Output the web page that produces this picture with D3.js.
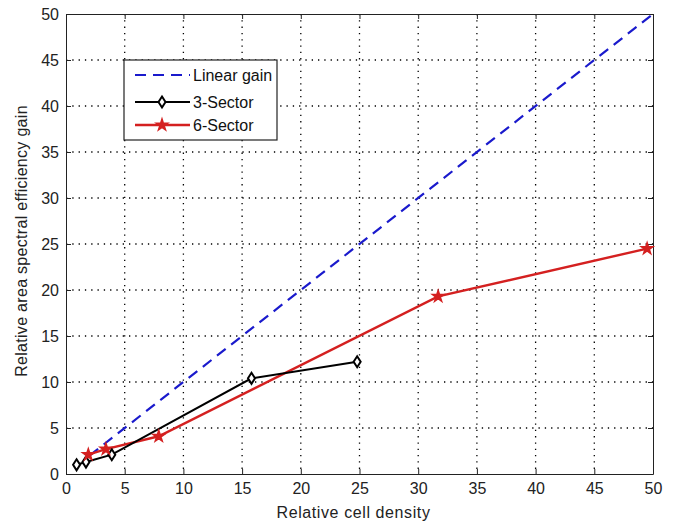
<!DOCTYPE html>
<html>
<head>
<meta charset="utf-8">
<script src="https://cdn.jsdelivr.net/npm/d3@7"></script>
<style>
  body { margin: 0; background: #fff; }
  text { font-family: "Liberation Sans", Arial, sans-serif; }
</style>
</head>
<body>
<script>
// chart data
let ticks = [0, 5, 10, 15, 20, 25, 30, 35, 40, 45, 50];
let linearGain = [[2, 2], [50, 50]];
let sector3 = [[0.9, 1.0], [1.7, 1.3], [3.9, 2.1], [15.8, 10.4], [24.8, 12.2]];
let sector6 = [[1.9, 2.1], [3.4, 2.7], [7.9, 4.1], [31.7, 19.3], [49.5, 24.5]];
let legendNames = ["Linear gain", "3-Sector", "6-Sector"];

let margin = {top: 14, right: 27, bottom: 53, left: 66},
width = 680 - margin.left - margin.right,
height = 527 - margin.top - margin.bottom;

let x = d3.scaleLinear().domain([0, 50]).range([0, width]);
let y = d3.scaleLinear().domain([0, 50]).range([height, 0]);

let svg = d3.select("body").append("svg")
  .attr("width", 680)
  .attr("height", 527)
.append("g")
  .attr("transform", "translate(" + margin.left + "," + margin.top + ")");

// dotted grid
svg.append("g").selectAll("line").data(ticks.slice(1, -1)).enter().append("line")
  .attr("x1", d => x(d)).attr("x2", d => x(d))
  .attr("y1", 0).attr("y2", height)
  .attr("stroke", "#000").attr("stroke-width", 1.3)
  .attr("stroke-dasharray", "1.3,5");
svg.append("g").selectAll("line").data(ticks.slice(1, -1)).enter().append("line")
  .attr("y1", d => y(d)).attr("y2", d => y(d))
  .attr("x1", 0).attr("x2", width)
  .attr("stroke", "#000").attr("stroke-width", 1.3)
  .attr("stroke-dasharray", "1.3,5");

// axes
svg.append("g")
  .attr("transform", "translate(0," + height + ")")
  .call(d3.axisBottom(x).tickValues(ticks).tickSizeInner(-5).tickSizeOuter(0).tickPadding(9));
svg.append("g")
  .call(d3.axisLeft(y).tickValues(ticks).tickSizeInner(-5).tickSizeOuter(0).tickPadding(7));
svg.append("g")
  .attr("transform", "translate(" + width + ",0)")
  .call(d3.axisRight(y).tickValues(ticks).tickSizeInner(-5).tickSizeOuter(0).tickFormat(""));
svg.append("g")
  .call(d3.axisTop(x).tickValues(ticks).tickSizeInner(-5).tickSizeOuter(0).tickFormat(""));
svg.selectAll(".domain, .tick line").attr("stroke", "#222");
svg.selectAll(".tick text").attr("font-size", 16).attr("fill", "#222")
  .style("font-family", "Liberation Sans, Arial, sans-serif");

// lines
let line = d3.line().x(d => x(d[0])).y(d => y(d[1]));

svg.append("path").datum(linearGain)
  .attr("d", line).attr("fill", "none")
  .attr("stroke", "#1a1acc").attr("stroke-width", 2.2)
  .attr("stroke-dasharray", "11,7");

svg.append("path").datum(sector6)
  .attr("d", line).attr("fill", "none")
  .attr("stroke", "#d42020").attr("stroke-width", 2.4);

svg.append("path").datum(sector3)
  .attr("d", line).attr("fill", "none")
  .attr("stroke", "#000").attr("stroke-width", 2);

// markers
function diamond(g, cx, cy) {
  g.append("path")
    .attr("d", "M" + cx + "," + (cy - 5.5) + "L" + (cx + 3.5) + "," + cy + "L" + cx + "," + (cy + 5.5) + "L" + (cx - 3.5) + "," + cy + "Z")
    .attr("fill", "#fff").attr("stroke", "#000").attr("stroke-width", 2);
}
function star(g, cx, cy) {
  g.append("path")
    .attr("d", d3.symbol(d3.symbolStar, 40)())
    .attr("transform", "translate(" + cx + "," + cy + ")")
    .attr("fill", "#d42020").attr("stroke", "#d42020").attr("stroke-width", 1.5);
}
let mk = svg.append("g");
sector3.forEach(d => diamond(mk, x(d[0]), y(d[1])));
sector6.forEach(d => star(mk, x(d[0]), y(d[1])));

// axis labels
svg.append("text")
  .attr("x", width / 2 - 6).attr("y", height + 44)
  .attr("text-anchor", "middle").attr("font-size", 16).attr("fill", "#222")
  .style("letter-spacing", "0.6px")
  .text("Relative cell density");
svg.append("text")
  .attr("transform", "translate(-39," + (241 - margin.top) + ") rotate(-90)")
  .attr("text-anchor", "middle").attr("font-size", 16).attr("fill", "#222")
  .style("letter-spacing", "0.3px")
  .text("Relative area spectral efficiency gain");

// legend
let lg = svg.append("g").attr("transform", "translate(" + (124 - margin.left) + "," + (60 - margin.top) + ")");
lg.append("rect").attr("width", 153).attr("height", 80)
  .attr("fill", "#fff").attr("stroke", "#222").attr("stroke-width", 1.2);
let rowY = [15, 42, 65];
lg.append("line").attr("x1", 11).attr("x2", 66).attr("y1", rowY[0]).attr("y2", rowY[0])
  .attr("stroke", "#1a1acc").attr("stroke-width", 2.2).attr("stroke-dasharray", "11,7");
lg.append("line").attr("x1", 11).attr("x2", 66).attr("y1", rowY[1]).attr("y2", rowY[1])
  .attr("stroke", "#000").attr("stroke-width", 2);
diamond(lg, 38, rowY[1]);
lg.append("line").attr("x1", 11).attr("x2", 66).attr("y1", rowY[2]).attr("y2", rowY[2])
  .attr("stroke", "#d42020").attr("stroke-width", 2.4);
star(lg, 38, rowY[2]);
legendNames.forEach((n, i) => {
  lg.append("text").attr("x", 69).attr("y", rowY[i] + 6)
    .attr("font-size", 16).attr("fill", "#111").text(n);
});
</script>
</body>
</html>
